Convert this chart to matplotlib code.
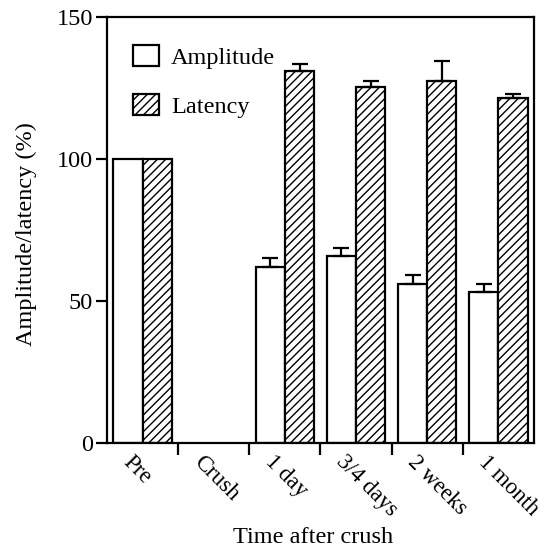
import numpy as np
import matplotlib.pyplot as plt
import matplotlib.transforms as mtransforms

plt.rcParams['font.family'] = ['Liberation Serif', 'DejaVu Serif']
plt.rcParams['hatch.linewidth'] = 1.0

categories = ["Pre", "Crush", "1 day", "3/4 days", "2 weeks", "1 month"]
amplitude = [100, 0, 62, 66, 56, 53]
amplitude_err = [0, 0, 3, 2.5, 3, 3]
latency = [100, 0, 131, 125.5, 127.5, 121.5]
latency_err = [0, 0, 2.5, 2, 7, 1.5]

x = np.arange(len(categories))
w = 0.41
fs = 17.5

fig = plt.figure(figsize=(5.45, 5.52), dpi=100)
ax = fig.add_axes([107 / 545, 1 - 443 / 552, 427 / 545, 426 / 552])

show_a = [v > 0 for v in amplitude]
show_l = [v > 0 for v in latency]
xa = x[show_a] - w / 2
xl = x[show_l] + w / 2
amp = np.array(amplitude)[show_a]
lat = np.array(latency)[show_l]
amp_e = np.array(amplitude_err)[show_a]
lat_e = np.array(latency_err)[show_l]

ax.bar(xa, amp, w, color="white", edgecolor="black", linewidth=1.6, label="Amplitude")
ax.bar(xl, lat, w, color="white", edgecolor="black", linewidth=1.6, hatch="////", label="Latency")
ea = amp_e > 0
el = lat_e > 0
ax.errorbar(xa[ea], amp[ea], yerr=[np.zeros(ea.sum()), amp_e[ea]], fmt="none",
            ecolor="black", elinewidth=1.6, capsize=6, capthick=1.6)
ax.errorbar(xl[el], lat[el], yerr=[np.zeros(el.sum()), lat_e[el]], fmt="none",
            ecolor="black", elinewidth=1.6, capsize=6, capthick=1.6)

ax.set_xlim(-0.5, len(categories) - 0.5)
ax.set_ylim(0, 150)
ax.set_yticks([0, 50, 100, 150])
ax.set_xticks(x[:-1] + 0.5)
ax.set_xticklabels([])
ax.set_xticks(x, minor=True)
ax.set_xticklabels(categories, minor=True, rotation=-45, ha="left", va="top",
                   rotation_mode="anchor")
ax.tick_params(axis="x", which="major", direction="out", length=8.5, width=1.6)
ax.tick_params(axis="x", which="minor", length=0, pad=6, labelsize=16.5)
ax.tick_params(axis="y", direction="out", length=8, width=1.6, labelsize=fs, pad=2)
shift = mtransforms.ScaledTranslation(-9 / 100, 0, fig.dpi_scale_trans)
for lab in ax.get_xticklabels(minor=True):
    lab.set_transform(lab.get_transform() + shift)
for s in ax.spines.values():
    s.set_linewidth(1.6)

ax.set_xlabel("Time after crush", fontsize=fs)
ax.xaxis.set_label_coords(0.482, -0.197)
ax.set_ylabel("Amplitude/latency (%)", fontsize=fs)
ax.yaxis.set_label_coords(-0.164, 0.49)

ax.legend(loc="upper left", frameon=False, fontsize=fs, handlelength=1.05,
          handleheight=0.9, labelspacing=1.05, handletextpad=0.5,
          borderaxespad=0, bbox_to_anchor=(0.039, 0.956))

fig.savefig("out.png", dpi=100)
